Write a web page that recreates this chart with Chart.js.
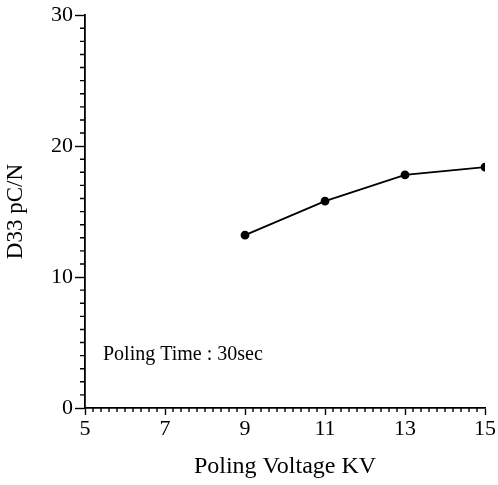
<!DOCTYPE html>
<html>
<head>
<meta charset="utf-8">
<script src="https://cdn.jsdelivr.net/npm/chart.js@4"></script>
<style>
  html, body { margin: 0; padding: 0; background: #fff; }
  #wrap { width: 498px; height: 485px; }
</style>
</head>
<body>
<div id="wrap"><canvas id="myChart"></canvas></div>
<script>
// values
const voltage = [9, 11, 13, 15];
const d33 = [13.2, 15.8, 17.8, 18.4];
const xTicks = [5, 7, 9, 11, 13, 15];
const yTicks = [0, 10, 20, 30];
const note = "Poling Time : 30sec";

const serif = "'Liberation Serif', 'DejaVu Serif', serif";

// small ticks between the labelled ones + the text box
const extras = {
    id: "extras",
    afterDraw(chart) {
        const ctx = chart.ctx;
        const xs = chart.scales.x, ys = chart.scales.y;
        const area = chart.chartArea;
        ctx.save();
        ctx.strokeStyle = "#000";
        ctx.lineWidth = 1.4;
        ctx.beginPath();
        for (let v = 1; v < 30; v++) {
            if (v % 10 === 0) continue;
            const py = ys.getPixelForValue(v);
            ctx.moveTo(area.left, py);
            ctx.lineTo(area.left - 5, py);
        }
        for (let i = 1; i < 50; i++) {
            if (i % 10 === 0) continue;
            const px = xs.getPixelForValue(5 + i * 0.2);
            ctx.moveTo(px, area.bottom);
            ctx.lineTo(px, area.bottom + 4);
        }
        ctx.stroke();
        ctx.fillStyle = "#000";
        ctx.font = "20px " + serif;
        ctx.textBaseline = "middle";
        ctx.fillText(note, xs.getPixelForValue(5.45), ys.getPixelForValue(4.1));
        ctx.restore();
    }
};

new Chart("myChart", {
    type: "line",
    data: {
        datasets: [{
            data: voltage.map((v, i) => ({x: v, y: d33[i]})),
            borderColor: "#000",
            backgroundColor: "#000",
            borderWidth: 1.8,
            pointRadius: 3.5,
            pointHoverRadius: 3.5,
            tension: 0
        }]
    },
    options: {
        responsive: true,
        maintainAspectRatio: false,
        animation: false,
        layout: {padding: {top: 13, right: 13, bottom: 0, left: 0}},
        plugins: {
            legend: {display: false},
            tooltip: {enabled: false}
        },
        scales: {
            x: {
                type: "linear",
                min: 5,
                max: 15,
                afterBuildTicks: s => { s.ticks = xTicks.map(v => ({value: v})); },
                afterFit: s => { s.height = 77; },
                grid: {display: true, drawOnChartArea: false, tickLength: 7, tickWidth: 1.4, color: "#000"},
                border: {display: true, color: "#000", width: 1.8},
                ticks: {color: "#000", padding: 1, maxRotation: 0, font: {family: serif, size: 22}},
                title: {display: true, text: "Poling Voltage KV", color: "#000", padding: {top: 4, bottom: 4},
                    font: {family: serif, size: 24}}
            },
            y: {
                min: 0,
                max: 30,
                afterBuildTicks: s => { s.ticks = yTicks.map(v => ({value: v})); },
                afterFit: s => { s.width = 85; },
                grid: {display: true, drawOnChartArea: false, tickLength: 10, tickWidth: 1.4, color: "#000"},
                border: {display: true, color: "#000", width: 1.8},
                ticks: {color: "#000", padding: 2, font: {family: serif, size: 22}},
                title: {display: true, text: "D33 pC/N", color: "#000", padding: {top: 2, bottom: 2},
                    font: {family: serif, size: 23}}
            }
        }
    },
    plugins: [extras]
});
</script>
</body>
</html>
